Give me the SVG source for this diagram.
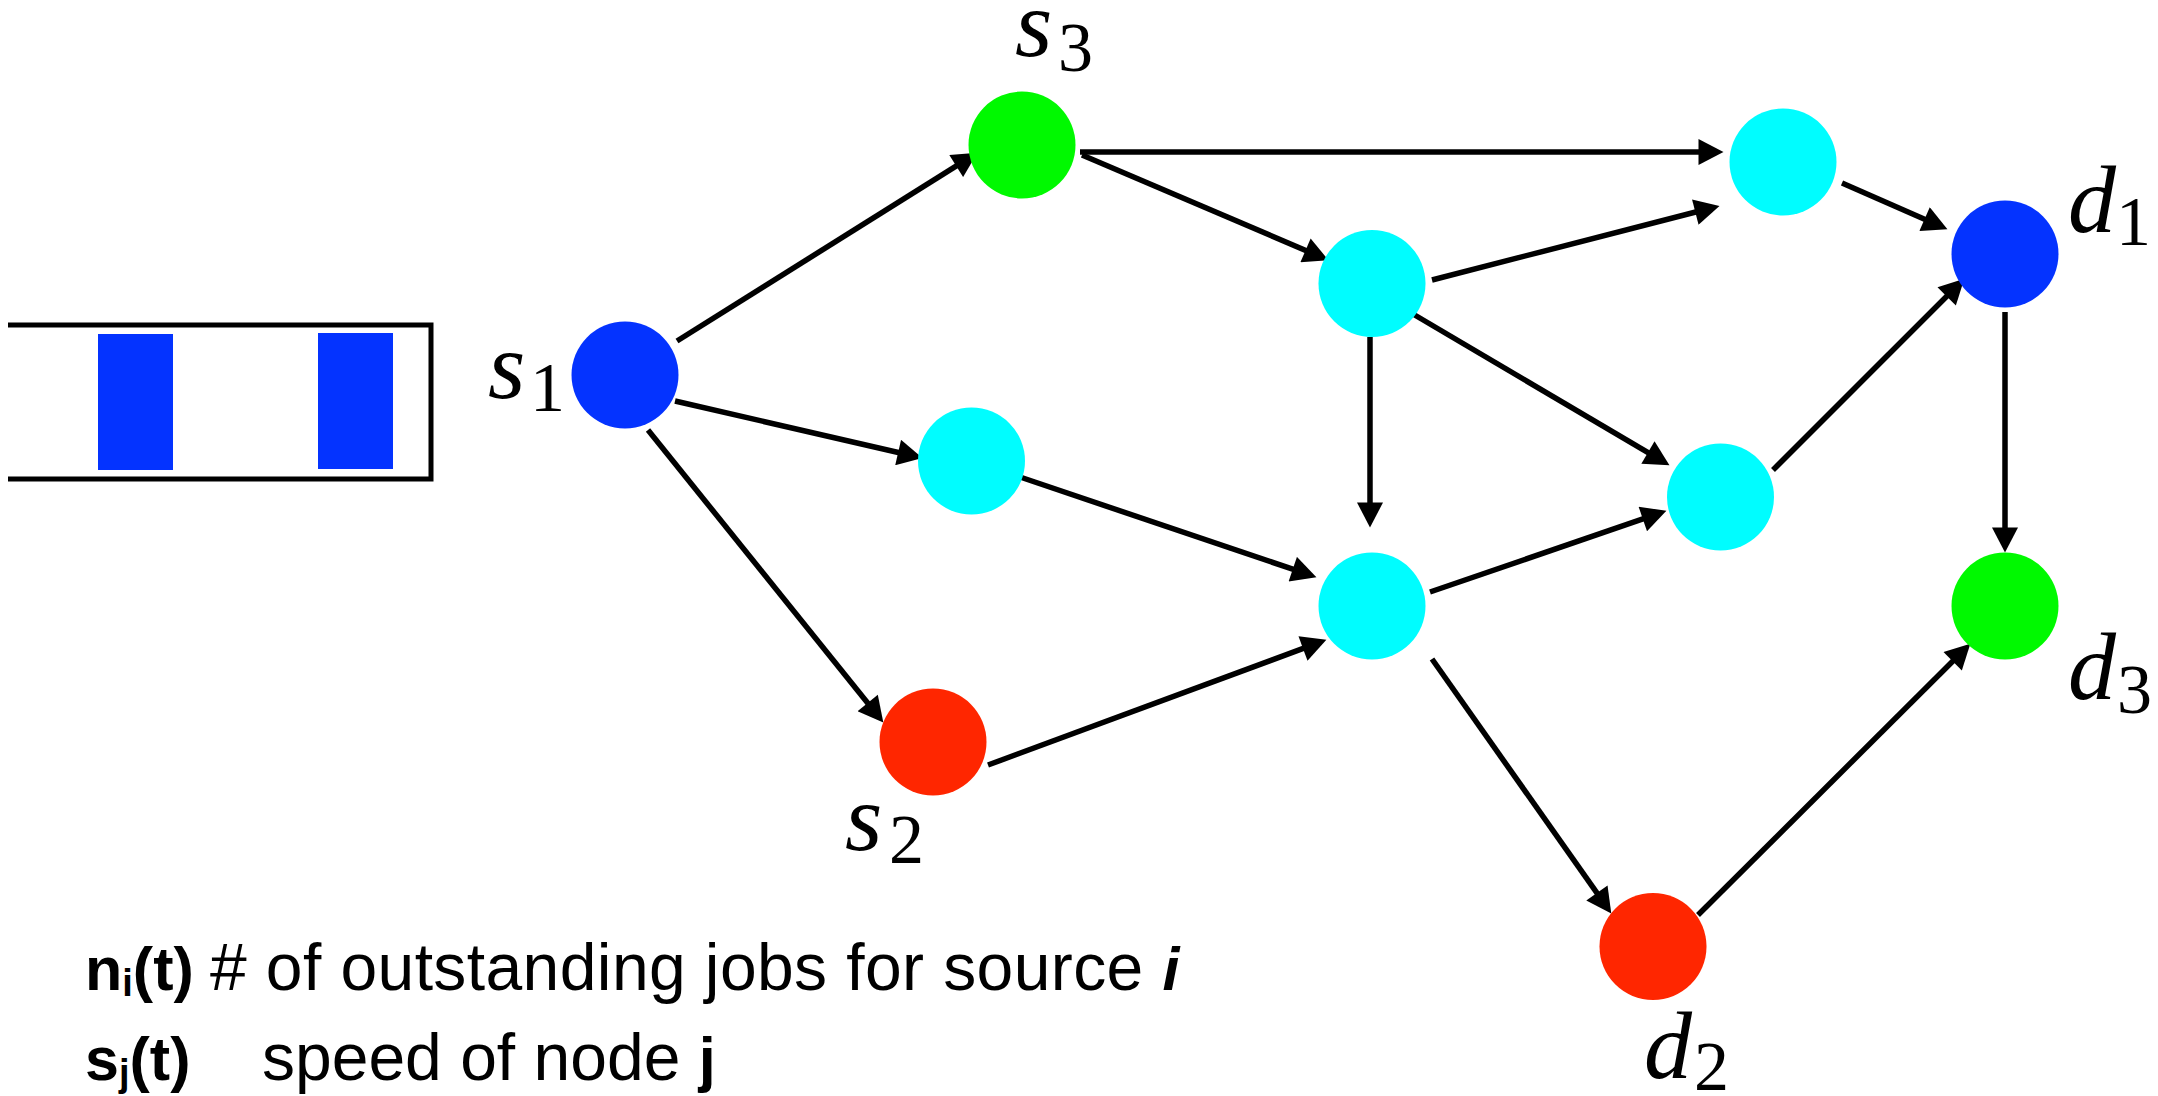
<svg xmlns="http://www.w3.org/2000/svg" width="2158" height="1096" viewBox="0 0 2158 1096">
<defs>
<style>
.edge{stroke:#000;stroke-width:5.5;fill:none;marker-end:url(#ah)}
.blue{fill:#0433FF}.cyan{fill:#00FDFF}.green{fill:#00F900}.red{fill:#FF2600}
.m{font-family:"Liberation Serif","DejaVu Serif",serif;fill:#000}
.mv{font-style:italic;font-size:96px}
.ms{font-size:70px}
.leg{font-family:"Liberation Sans",Arial,sans-serif;font-size:66px;fill:#000}
.b{font-weight:bold;font-size:61px}
.sub{font-size:38px;font-weight:bold}
</style>
<marker id="ah" markerUnits="userSpaceOnUse" markerWidth="26" markerHeight="26" refX="12" refY="12.5" orient="auto" viewBox="0 0 24 25">
<path d="M0,0 L24,12.5 L0,25 Z" fill="#000"/>
</marker>
</defs>
<rect width="2158" height="1096" fill="#fff"/>
<g id="queue">
<path d="M8,325 H431 V479 H8" stroke="#000" stroke-width="5" fill="none"/>
<rect class="blue" x="98" y="334" width="75" height="136"/>
<rect class="blue" x="318" y="333" width="75" height="136"/>
</g>
<g id="connectors">
<line class="edge" x1="677" y1="341" x2="966.8" y2="159.4"/>
<line class="edge" x1="675" y1="401" x2="910.3" y2="455.3"/>
<line class="edge" x1="648" y1="430" x2="875.5" y2="712.7"/>
<line class="edge" x1="1080" y1="152" x2="1711" y2="152"/>
<line class="edge" x1="1082" y1="155" x2="1317" y2="255.3"/>
<line class="edge" x1="1020" y1="477" x2="1304.6" y2="573.2"/>
<line class="edge" x1="988" y1="765" x2="1314.7" y2="644.2"/>
<line class="edge" x1="1432" y1="280" x2="1707.4" y2="209"/>
<line class="edge" x1="1413" y1="314" x2="1658.7" y2="458.9"/>
<line class="edge" x1="1370" y1="337" x2="1370" y2="515"/>
<line class="edge" x1="1430" y1="592" x2="1654.6" y2="514.9"/>
<line class="edge" x1="1432" y1="659" x2="1604.1" y2="903.2"/>
<line class="edge" x1="1842" y1="183" x2="1936" y2="224.2"/>
<line class="edge" x1="1773" y1="470" x2="1955.5" y2="287.5"/>
<line class="edge" x1="2005" y1="312" x2="2005" y2="540"/>
<line class="edge" x1="1698" y1="915" x2="1961.5" y2="652.5"/>
</g>
<g id="s1"><circle class="blue" cx="625" cy="375" r="53.5"/>
<text class="m"><tspan class="mv" x="488" y="398">s</tspan><tspan class="ms" x="530" y="411">1</tspan></text></g>
<g id="s3"><circle class="green" cx="1022" cy="145" r="53.5"/>
<text class="m"><tspan class="mv" x="1015" y="56">s</tspan><tspan class="ms" x="1058" y="71">3</tspan></text></g>
<g id="s2"><circle class="red" cx="933" cy="742" r="53.5"/>
<text class="m"><tspan class="mv" x="845" y="850">s</tspan><tspan class="ms" x="889" y="863">2</tspan></text></g>
<g id="nC"><circle class="cyan" cx="971.5" cy="461" r="53.5"/></g>
<g id="nB"><circle class="cyan" cx="1372" cy="283.5" r="53.5"/></g>
<g id="nD"><circle class="cyan" cx="1372" cy="606" r="53.5"/></g>
<g id="nA"><circle class="cyan" cx="1783" cy="162" r="53.5"/></g>
<g id="nE"><circle class="cyan" cx="1720.5" cy="497" r="53.5"/></g>
<g id="d1"><circle class="blue" cx="2005" cy="254" r="53.5"/>
<text class="m"><tspan class="mv" x="2068" y="232">d</tspan><tspan class="ms" x="2116" y="245">1</tspan></text></g>
<g id="d3"><circle class="green" cx="2005" cy="606" r="53.5"/>
<text class="m"><tspan class="mv" x="2068" y="699">d</tspan><tspan class="ms" x="2117" y="713">3</tspan></text></g>
<g id="d2"><circle class="red" cx="1653" cy="946.5" r="53.5"/>
<text class="m"><tspan class="mv" x="1644" y="1078">d</tspan><tspan class="ms" x="1694" y="1090">2</tspan></text></g>
<g id="legend">
<text class="leg" y="990"><tspan class="b" x="85">n</tspan><tspan class="sub" dy="6">i</tspan><tspan class="b" dy="-6">(t)</tspan><tspan x="210" letter-spacing="0.4"># of outstanding jobs for source </tspan><tspan class="b" font-size="66px" font-style="italic">i</tspan></text>
<text class="leg" y="1080"><tspan class="b" x="85">s</tspan><tspan class="sub" dy="6">j</tspan><tspan class="b" dy="-6">(t)</tspan><tspan x="262">speed of node </tspan><tspan class="b" font-size="66px">j</tspan></text>
</g>
</svg>
